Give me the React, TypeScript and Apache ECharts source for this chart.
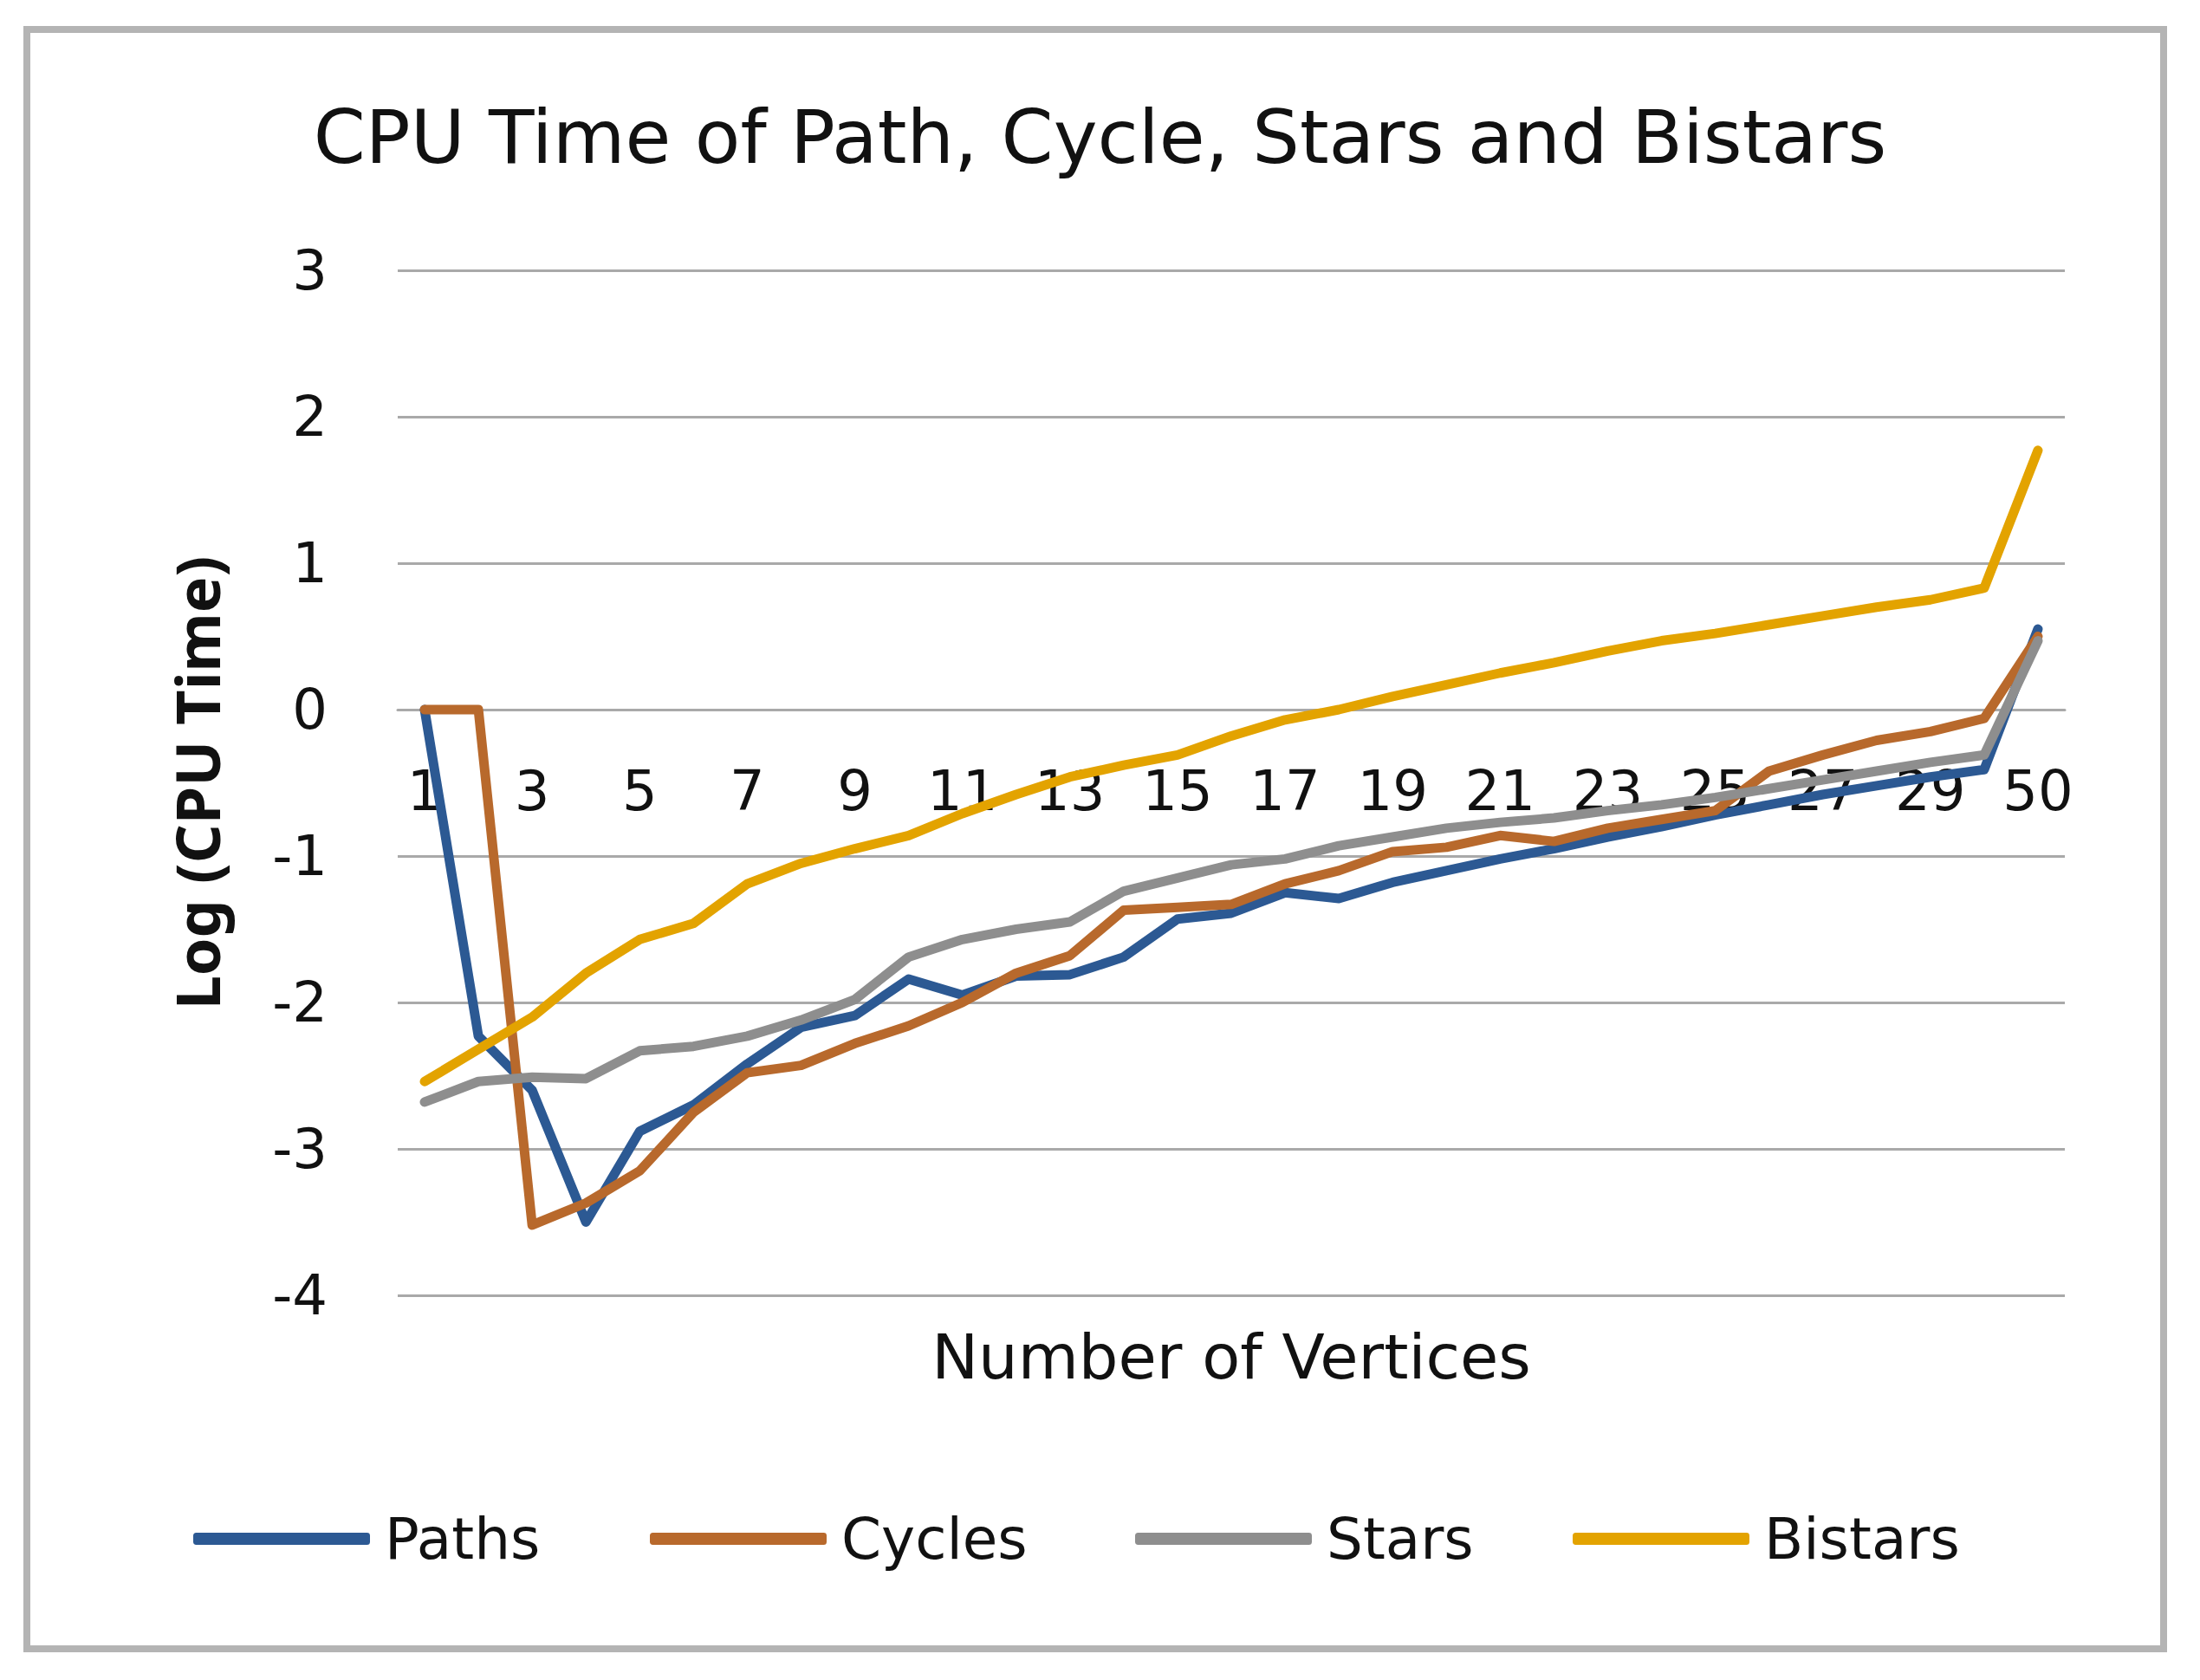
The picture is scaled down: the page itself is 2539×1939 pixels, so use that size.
import React, { useEffect, useRef } from "react";
import * as echarts from "echarts";

const categories = [
  "1", "2", "3", "4", "5", "6", "7", "8", "9", "10",
  "11", "12", "13", "14", "15", "16", "17", "18", "19", "20",
  "21", "22", "23", "24", "25", "26", "27", "28", "29", "30", "50",
];

const paths = [
  0, -2.23, -2.6, -3.5, -2.88, -2.7, -2.42, -2.17, -2.09, -1.84,
  -1.95, -1.82, -1.81, -1.69, -1.43, -1.39, -1.25, -1.29, -1.18, -1.1,
  -1.02, -0.95, -0.87, -0.8, -0.72, -0.65, -0.58, -0.52, -0.46, -0.41, 0.55,
];

const cycles = [
  0, 0, -3.52, -3.37, -3.15, -2.75, -2.48, -2.43, -2.28, -2.16,
  -2.0, -1.8, -1.68, -1.37, -1.35, -1.33, -1.19, -1.1, -0.97, -0.94,
  -0.86, -0.9, -0.81, -0.75, -0.69, -0.42, -0.31, -0.21, -0.15, -0.06, 0.5,
];

const stars = [
  -2.68, -2.54, -2.51, -2.52, -2.33, -2.3, -2.23, -2.12, -1.98, -1.69,
  -1.57, -1.5, -1.45, -1.24, -1.15, -1.06, -1.02, -0.93, -0.87, -0.81,
  -0.77, -0.74, -0.69, -0.65, -0.6, -0.54, -0.48, -0.42, -0.36, -0.31, 0.47,
];

const bistars = [
  -2.54, -2.32, -2.1, -1.8, -1.57, -1.46, -1.19, -1.05, -0.95, -0.86,
  -0.71, -0.58, -0.46, -0.38, -0.31, -0.18, -0.07, 0.0, 0.09, 0.17,
  0.25, 0.32, 0.4, 0.47, 0.52, 0.58, 0.64, 0.7, 0.75, 0.83, 1.77,
];

const seriesNames = ["Paths", "Cycles", "Stars", "Bistars"];
const seriesColors = ["#2C5993", "#B8692C", "#8E8E8E", "#E3A300"];
const seriesData = [paths, cycles, stars, bistars];
const legendLefts = [218, 745, 1305, 1810];

const FONT = "DejaVu Sans";

export default function App() {
  const ref = useRef<HTMLDivElement>(null);

  useEffect(() => {
    document.body.style.margin = "0";
    const chart = echarts.init(ref.current!, null, { renderer: "svg" });
    chart.setOption({
      animation: false,
      backgroundColor: "#ffffff",
      title: {
        text: "CPU Time of Path, Cycle, Stars and Bistars",
        left: "center",
        top: 110,
        textStyle: {
          fontFamily: FONT,
          fontSize: 86,
          fontWeight: "normal",
          color: "#111111",
        },
      },
      graphic: [
        {
          type: "rect",
          shape: { x: 31, y: 34, width: 2466, height: 1869 },
          style: { fill: "none", stroke: "#b4b4b4", lineWidth: 8 },
          silent: true,
          z: -10,
        },
      ],
      legend: seriesNames.map((name, i) => ({
        data: [name],
        left: legendLefts[i],
        top: 1738,
        icon: "roundRect",
        itemWidth: 204,
        itemHeight: 14,
        textStyle: {
          fontFamily: FONT,
          fontSize: 66,
          color: "#111111",
          padding: [0, 0, 0, 12],
        },
      })),
      grid: {
        left: 459,
        right: 156,
        top: 312,
        bottom: 444,
        containLabel: false,
        outerBoundsMode: "none",
      },
      xAxis: {
        type: "category",
        data: categories,
        boundaryGap: true,
        offset: -676,
        name: "Number of Vertices",
        nameLocation: "middle",
        nameGap: 711,
        nameTextStyle: {
          fontFamily: FONT,
          fontSize: 72,
          color: "#111111",
        },
        axisLine: {
          show: true,
          onZero: false,
          lineStyle: { color: "#a9a9a9", width: 3 },
        },
        axisTick: { show: false },
        axisLabel: {
          interval: 1,
          margin: 62,
          fontFamily: FONT,
          fontSize: 64,
          color: "#111111",
        },
        splitLine: { show: false },
      },
      yAxis: {
        type: "value",
        min: -4,
        max: 3,
        interval: 1,
        name: "Log (CPU Time)",
        nameLocation: "middle",
        nameGap: 197,
        nameTextStyle: {
          fontFamily: "Noto Sans",
          fontSize: 70,
          fontWeight: "bold",
          color: "#111111",
        },
        axisLine: { show: false },
        axisTick: { show: false },
        axisLabel: {
          margin: 81,
          fontFamily: FONT,
          fontSize: 64,
          color: "#111111",
        },
        splitLine: {
          show: true,
          lineStyle: { color: "#a9a9a9", width: 3 },
        },
      },
      series: seriesNames.map((name, i) => ({
        name,
        type: "line",
        data: seriesData[i],
        showSymbol: false,
        symbol: "none",
        color: seriesColors[i],
        lineStyle: {
          color: seriesColors[i],
          width: 11,
          cap: "round",
          join: "round",
        },
        itemStyle: { color: seriesColors[i] },
      })),
    });
    return () => chart.dispose();
  }, []);

  return (
    <div
      ref={ref}
      style={{
        position: "fixed",
        left: 0,
        top: 0,
        width: 2539,
        height: 1939,
        background: "#ffffff",
      }}
    />
  );
}
